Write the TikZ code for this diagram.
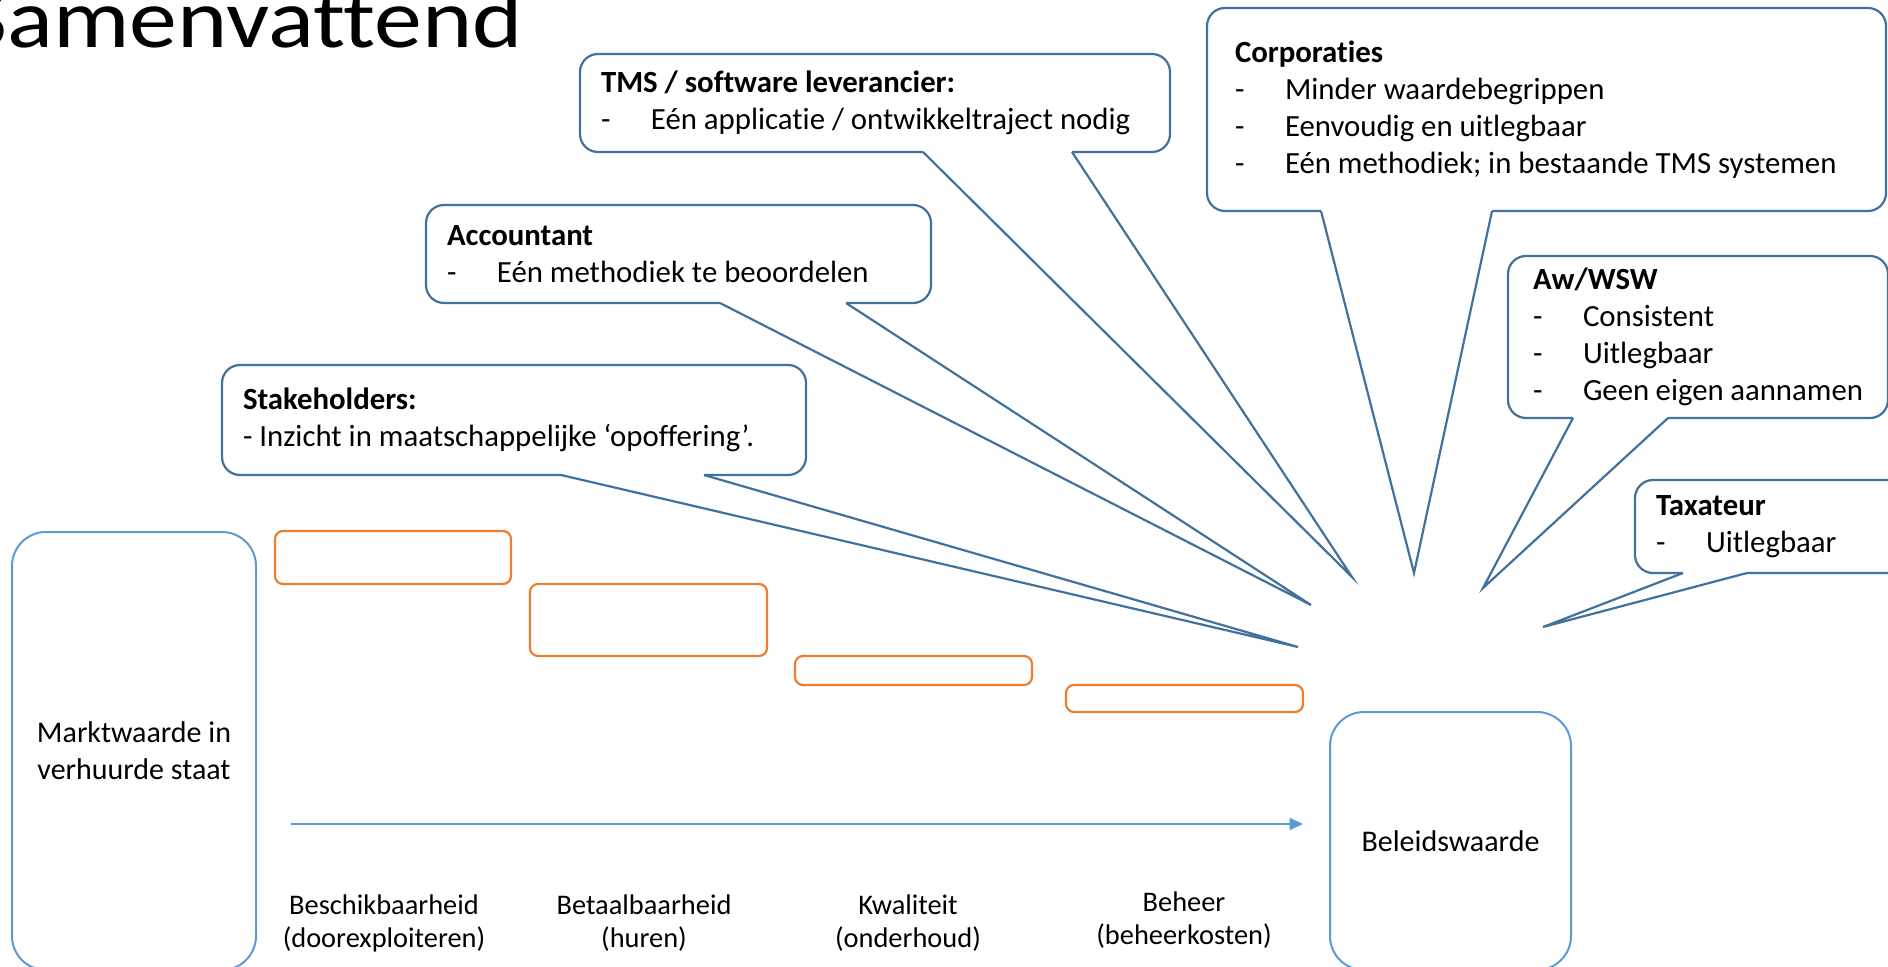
\documentclass[tikz,border=0pt]{standalone}
\usepackage{fontspec}
\setmainfont{Carlito}[Ligatures=NoCommon]
\usetikzlibrary{arrows.meta,calc}
\definecolor{calloutblue}{RGB}{65,113,156}
\definecolor{boxblue}{RGB}{91,155,213}
\definecolor{steporange}{RGB}{237,125,49}
\newcommand\dashitem{\makebox[25pt][l]{-}}
\newcommand\calltail[4]{%
  \fill[white] ($(#1.south west)+(#2,-2)$) -- ($(#1.south west)+(#2,0)$) -- (#4)
    -- ($(#1.south west)+(#3,0)$) -- ($(#1.south west)+(#3,-2)$) -- cycle;
  \draw[tailline] ($(#1.south west)+(#2,0)$) -- (#4) -- ($(#1.south west)+(#3,0)$);}

\begin{document}
\begin{tikzpicture}[x=0.5pt,y=-0.5pt,
    callout/.style={draw=calloutblue,line width=1.1pt,rounded corners=9pt,fill=white,
      anchor=north west,align=flush left,inner xsep=10.5pt,inner ysep=0pt,outer sep=0pt,
      font=\fontsize{15.4}{18.4}\selectfont},
    tailline/.style={draw=calloutblue,line width=1.1pt},
    valuebox/.style={draw=boxblue,line width=1pt,rounded corners=17pt,anchor=north west,
      align=center,outer sep=0pt,font=\fontsize{15}{18.5}\selectfont},
    stepbox/.style={draw=steporange,line width=1.1pt,rounded corners=4pt,anchor=north west,
      minimum width=118pt,outer sep=0pt,inner sep=0pt},
    steplabel/.style={align=center,font=\fontsize{14.2}{16.5}\selectfont},
    flow/.style={draw=boxblue,line width=0.8pt,-{Triangle[length=6.7pt,width=6pt]}}]
  \useasboundingbox (0,0) rectangle (1888,967);

  % title, cut off at the left edge
  \node[anchor=base west,inner sep=0pt,font=\fontsize{42}{42}\selectfont] (title) at (-37,48)
    {\scalebox{1.14}[1]{Samenvattend}};

  % start and end value
  \node[valuebox,minimum width=122pt,minimum height=219pt] (markt) at (12,532) {Marktwaarde in\\verhuurde staat};
  \node[valuebox,minimum width=120.5pt,minimum height=129pt] (beleid) at (1330,712) {Beleidswaarde};

  % steps down
  \node[stepbox,minimum height=26.5pt] (beschik) at (275,531) {};
  \node[stepbox,minimum height=36pt,minimum width=118.5pt] (betaal) at (530,584) {};
  \node[stepbox,minimum height=14.5pt,minimum width=118.5pt] (kwal) at (795,656) {};
  \node[stepbox,minimum height=13.5pt,minimum width=118.5pt] (beheer) at (1066,685) {};

  \coordinate (flowstart) at (291,824);
  \coordinate (flowend) at (1303,824);
  \draw[flow] (flowstart) -- (flowend);

  \node[steplabel] (lbeschik) at (384,923) {Beschikbaarheid\\(doorexploiteren)};
  \node[steplabel] (lbetaal) at (644,923) {Betaalbaarheid\\(huren)};
  \node[steplabel] (lkwal) at (908,923) {Kwaliteit\\(onderhoud)};
  \node[steplabel] (lbeheer) at (1184,920) {Beheer\\(beheerkosten)};

  % callouts
  \node[callout,minimum width=292pt,minimum height=55pt,text width=271pt] (stake) at (222,365)
    {\textbf{Stakeholders:}\\- Inzicht in maatschappelijke ‘opoffering’.};
  \node[callout,minimum width=252.5pt,minimum height=49pt,text width=231.5pt] (acc) at (426,205)
    {\textbf{Accountant}\\\dashitem Eén methodiek te beoordelen};
  \node[callout,minimum width=295pt,minimum height=49pt,text width=274pt] (tms) at (580,54)
    {\textbf{TMS / software leverancier:}\\\dashitem Eén applicatie / ontwikkeltraject nodig};
  \node[callout,inner xsep=14pt,minimum width=339.5pt,minimum height=101.5pt,text width=311.5pt] (corp) at (1207,8)
    {\textbf{Corporaties}\\\dashitem Minder waardebegrippen\\\dashitem Eenvoudig en uitlegbaar\\\dashitem Eén methodiek; in bestaande TMS systemen};
  \node[callout,inner xsep=12.5pt,minimum width=190pt,minimum height=81pt,text width=165pt] (aw) at (1508,256)
    {\textbf{Aw/WSW}\\\dashitem Consistent\\\dashitem Uitlegbaar\\\dashitem Geen eigen aannamen};
  \node[callout,minimum width=135pt,minimum height=46.5pt,text width=114pt] (tax) at (1635,480)
    {\textbf{Taxateur}\\\dashitem Uitlegbaar};

  \coordinate (tipstake) at (1298,647);
  \coordinate (tipacc) at (1311,605);
  \coordinate (tiptms) at (1352,577);
  \coordinate (tipcorp) at (1414,573);
  \coordinate (tipaw) at (1483,588);
  \coordinate (tiptax) at (1543,627);

  \calltail{stake}{339}{482}{tipstake}
  \calltail{acc}{294}{420}{tipacc}
  \calltail{tms}{343}{492}{tiptms}
  \calltail{corp}{114}{285}{tipcorp}
  \calltail{aw}{65}{160}{tipaw}
  \calltail{tax}{48}{112}{tiptax}
\end{tikzpicture}
\end{document}
